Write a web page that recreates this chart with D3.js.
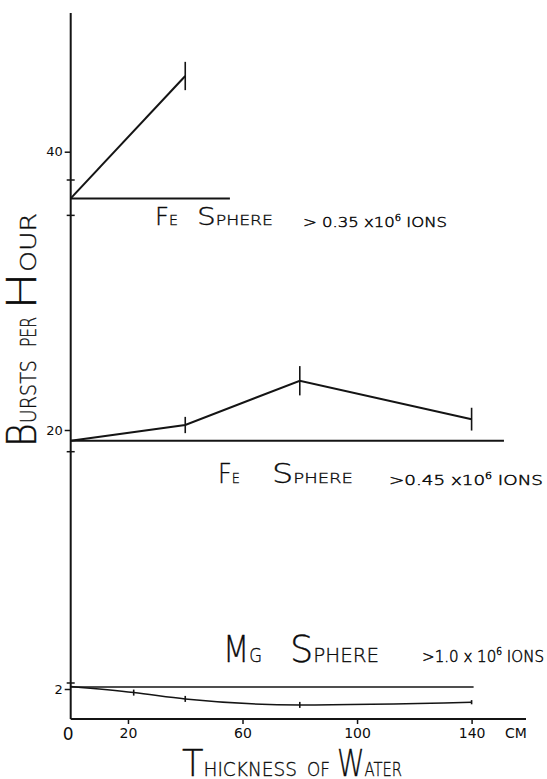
<!DOCTYPE html>
<html><head><meta charset="utf-8">
<script src="https://cdn.jsdelivr.net/npm/d3@7"></script>
<style>
html,body{margin:0;padding:0;background:#fff;}
svg{display:block;}
text{font-family:"DejaVu Sans",sans-serif;font-weight:200;fill:#0c0c0c;stroke:#0c0c0c;stroke-width:0.35px;}
.tick text{font-weight:400;stroke-width:0;}
</style></head><body>
<svg id="chart" width="547" height="779"></svg>
<script>
// ---------- data ----------
// Fe sphere, > 0.35 x 10^6 ions
const feA_x = [0, 40];
const feA_y = [36.7, 45.35];
const feA_err = [0, 1.0];
const feA_ref = 36.7, feA_refEnd = 55.6;
const feA_ticksLabeled = [40], feA_ticksMinor = [38, 35.5];
const feA_name = ["Fe", "Sphere"], feA_ions = ["> 0.35 x10", "6", " IONS"];

// Fe sphere, > 0.45 x 10^6 ions
const feB_x = [0, 40, 80, 140];
const feB_y = [19.0, 20.46, 24.54, 21.0];
const feB_err = [0, 0.75, 1.35, 1.05];
const feB_ref = 19.0, feB_refEnd = 151.3;
const feB_ticksLabeled = [20], feB_ticksMinor = [18];
const feB_name = ["Fe", "Sphere"], feB_ions = [">0.45 x10", "6", "  IONS"];

// Mg sphere, > 1.0 x 10^6 ions
const mg_x = [0, 22, 40, 80, 140];
const mg_y = [2.08, 1.88, 1.67, 1.47, 1.56];
const mg_err = [0, 0.1, 0.1, 0.1, 0.07];
const mg_ref = 2.07, mg_refEnd = 140.7;
const mg_ticksLabeled = [2], mg_ticksMinor = [2.2];
const mg_name = ["Mg", "Sphere"], mg_ions = [">1.0 x 10", "6", "  IONS"];

// x axis
const xTicks = [0, 20, 60, 100, 140];
const xTickLabels = ["0", "20", "60", "100", "140"];
const xUnit = "CM";
const xTitle = ["Thickness", "of", "Water"];
const yTitle = ["Bursts", "per", "Hour"];

// ---------- drawing ----------
const svg = d3.select("#chart");
const ink = "#141414";

const x = d3.scaleLinear().domain([0, 159]).range([70.7, 526]);
const yA = d3.scaleLinear().domain([38, 40]).range([180, 151.7]);
const yB = d3.scaleLinear().domain([18, 20]).range([451.7, 430]);
const yM = d3.scaleLinear().domain([2, 2.2]).range([689, 683]);
const yAxisTop = 13, xAxisY = 719;

// axes lines
svg.append("line").attr("x1", x(0)).attr("x2", x(0)).attr("y1", yAxisTop).attr("y2", xAxisY)
  .attr("stroke", ink).attr("stroke-width", 2);
svg.append("line").attr("x1", x(0)).attr("x2", x.range()[1]).attr("y1", xAxisY).attr("y2", xAxisY)
  .attr("stroke", ink).attr("stroke-width", 2);

// x axis ticks & labels
const xAxis = svg.append("g").attr("transform", `translate(0,${xAxisY})`)
  .call(d3.axisBottom(x).tickValues(xTicks).tickFormat((d, i) => xTickLabels[i]).tickSize(5).tickPadding(4));
xAxis.select(".domain").remove();
xAxis.selectAll(".tick line").attr("stroke", ink).attr("stroke-width", 1.5)
  .attr("opacity", d => d === 0 ? 0 : 1);
xAxis.selectAll(".tick text").style("font-size", "14px").style("font-family", "DejaVu Sans").attr("fill", "#0c0c0c");
xAxis.selectAll(".tick text").filter(d => d === 0).style("font-size", "17px").attr("dx", -3);
svg.append("text").attr("x", 505).attr("y", 738).style("font-size", "14px").style("font-weight", 400)
  .style("stroke-width", 0).text(xUnit);

// y ticks per panel
function yTicks(scale, labeled, minor) {
  const g = svg.append("g").attr("transform", `translate(${x(0)},0)`)
    .call(d3.axisLeft(scale).tickValues(labeled).tickFormat(d3.format("d")).tickSize(6).tickPadding(2));
  g.select(".domain").remove();
  g.selectAll(".tick line").attr("stroke", ink).attr("stroke-width", 1.5);
  g.selectAll(".tick text").style("font-size", "13px").style("font-family", "DejaVu Sans").attr("fill", "#0c0c0c");
  g.selectAll("line.minor").data(minor).join("line").attr("class", "minor")
    .attr("x1", -4).attr("x2", 4).attr("y1", d => scale(d)).attr("y2", d => scale(d))
    .attr("stroke", ink).attr("stroke-width", 1.5);
}
yTicks(yA, feA_ticksLabeled, feA_ticksMinor);
yTicks(yB, feB_ticksLabeled, feB_ticksMinor);
yTicks(yM, mg_ticksLabeled, mg_ticksMinor);

// series
function series(xs, ys, errs, scale, ref, refEnd, width, curve) {
  const pts = xs.map((v, i) => ({x: v, y: ys[i], e: errs[i]}));
  svg.append("line").attr("x1", x(0)).attr("x2", x(refEnd)).attr("y1", scale(ref)).attr("y2", scale(ref))
    .attr("stroke", ink).attr("stroke-width", width);
  svg.append("path").datum(pts)
    .attr("d", d3.line().x(d => x(d.x)).y(d => scale(d.y)).curve(curve))
    .attr("fill", "none").attr("stroke", ink).attr("stroke-width", width);
  svg.append("g").selectAll("line").data(pts.filter(d => d.e > 0)).join("line")
    .attr("x1", d => x(d.x)).attr("x2", d => x(d.x))
    .attr("y1", d => scale(d.y - d.e)).attr("y2", d => scale(d.y + d.e))
    .attr("stroke", ink).attr("stroke-width", 1.6);
}
series(feA_x, feA_y, feA_err, yA, feA_ref, feA_refEnd, 2, d3.curveLinear);
series(feB_x, feB_y, feB_err, yB, feB_ref, feB_refEnd, 2, d3.curveLinear);
series(mg_x, mg_y, mg_err, yM, mg_ref, mg_refEnd, 1.5, d3.curveMonotoneX);

// small-caps lettering
function scWord(g, word, x0, x1, y, big, small) {
  const t = g.append("text").attr("x", x0).attr("y", y)
    .attr("textLength", x1 - x0).attr("lengthAdjust", "spacingAndGlyphs");
  if (word[0] === word[0].toUpperCase()) {
    t.append("tspan").style("font-size", big + "px").text(word[0]);
    t.append("tspan").style("font-size", small + "px").text(word.slice(1).toUpperCase());
  } else {
    t.append("tspan").style("font-size", small + "px").text(word.toUpperCase());
  }
}
function ions(g, parts, x0, x1, y, size) {
  const t = g.append("text").attr("x", x0).attr("y", y)
    .attr("textLength", x1 - x0).attr("lengthAdjust", "spacingAndGlyphs").style("font-size", size + "px")
    .style("font-weight", 200).style("stroke-width", "0.5px");
  t.append("tspan").text(parts[0]);
  t.append("tspan").attr("dy", -size * 0.45).style("font-size", (size * 0.6) + "px").text(parts[1]);
  t.append("tspan").attr("dy", size * 0.45).text(parts[2]);
}
const L = svg.append("g");
scWord(L, feA_name[0], 155, 178, 225, 24, 14);
scWord(L, feA_name[1], 197, 273, 225, 24, 14);
ions(L, feA_ions, 303, 447, 227, 14);

scWord(L, feB_name[0], 218, 240, 483, 27, 14.5);
scWord(L, feB_name[1], 272, 353, 483, 27, 14.5);
ions(L, feB_ions, 389, 543, 485, 14);

scWord(L, mg_name[0], 223, 262, 662, 37, 20);
scWord(L, mg_name[1], 290, 379, 662, 37, 20);
ions(L, mg_ions, 422, 544, 662, 16);

scWord(L, xTitle[0], 182, 297, 776, 38, 20);
scWord(L, xTitle[1], 307, 330, 776, 38, 20);
scWord(L, xTitle[2], 337, 402, 776, 38, 20);

const YT = svg.append("g").attr("transform", "translate(36,447) rotate(-90)");
scWord(YT, yTitle[0], 0, 87, 0, 40, 21);
scWord(YT, yTitle[1], 100, 130, 0, 40, 21);
scWord(YT, yTitle[2], 137, 234, 0, 40, 21);
</script>
</body></html>
